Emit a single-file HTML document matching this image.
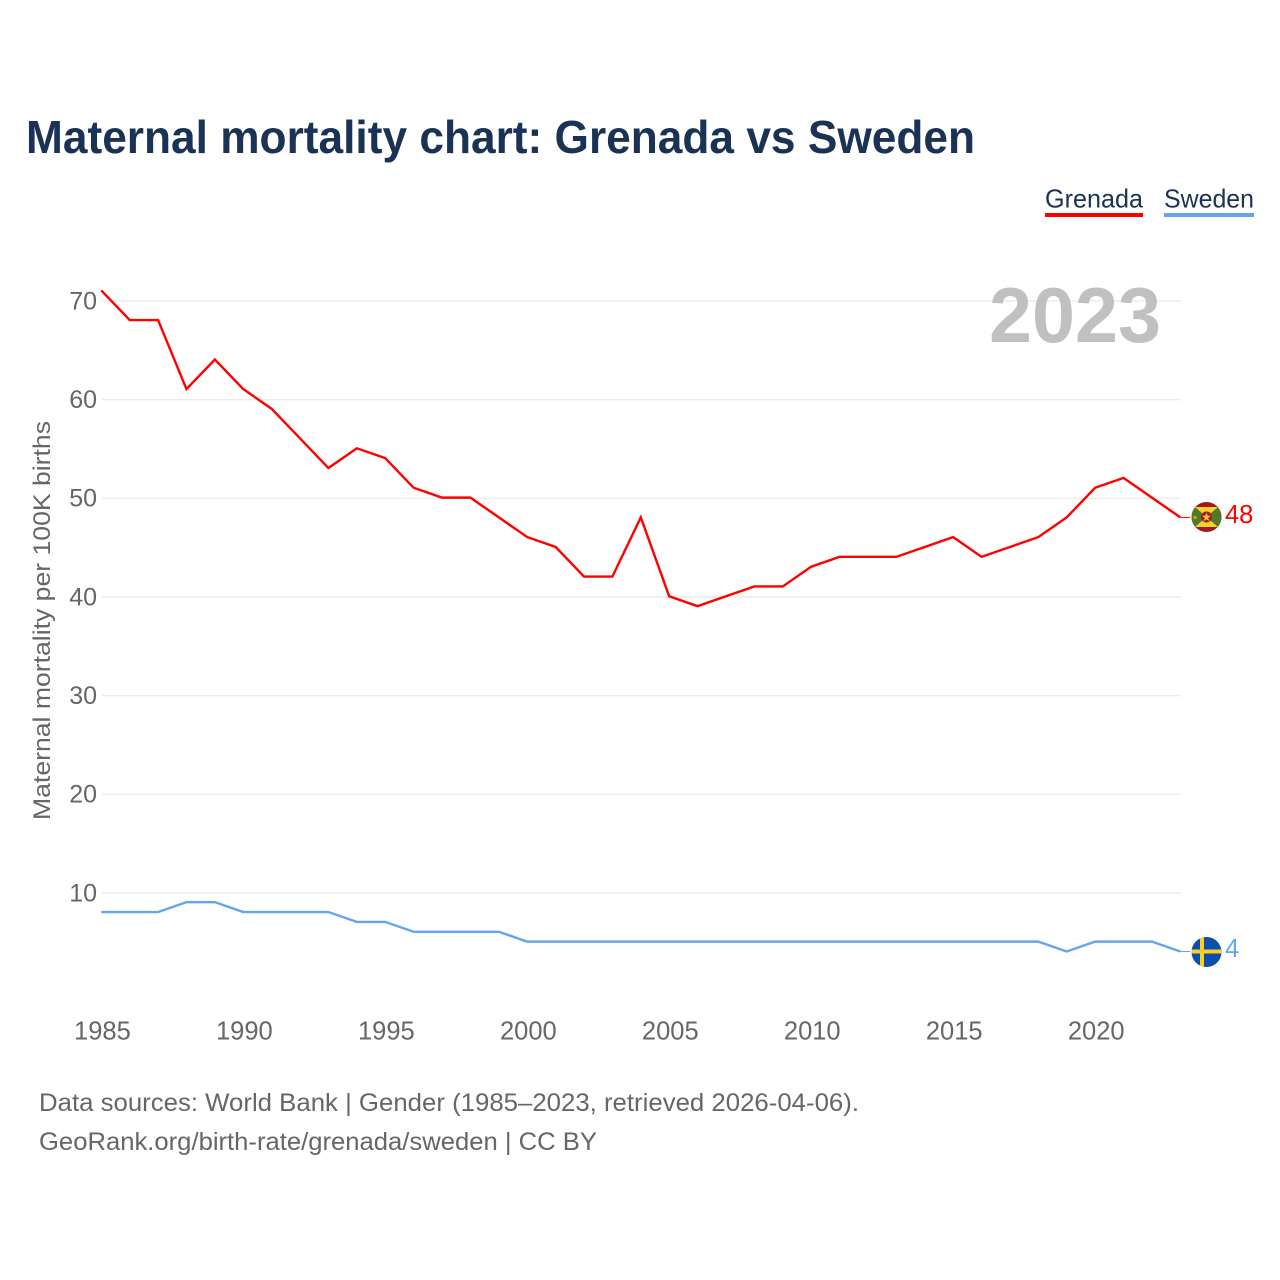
<!DOCTYPE html>
<html lang="en">
<head>
<meta charset="utf-8">
<title>Maternal mortality chart: Grenada vs Sweden</title>
<style>
html,body{margin:0;padding:0;background:#fff;width:1280px;height:1280px;overflow:hidden}
svg{display:block;font-family:"Liberation Sans",Arial,sans-serif}
</style>
</head>
<body>
<svg id="chart" width="1280" height="1280" viewBox="0 0 1280 1280" xmlns="http://www.w3.org/2000/svg">
  <defs>
    <clipPath id="grenada-clip"><circle cx="1206.5" cy="517" r="15"/></clipPath>
    <clipPath id="sweden-clip"><circle cx="1206.5" cy="952" r="15"/></clipPath>
  </defs>
  <text x="26" y="153" font-size="46" font-weight="700" fill="#1a3354" textLength="949" lengthAdjust="spacingAndGlyphs">Maternal mortality chart: Grenada vs Sweden</text>

  <g>
    <g>
      <text x="1045" y="207.5" font-size="26" fill="#1a3354" textLength="98" lengthAdjust="spacingAndGlyphs">Grenada</text>
      <rect x="1045" y="213" width="98" height="4" fill="#ff0000"/>
    </g>
    <g>
      <text x="1164" y="207.5" font-size="26" fill="#1a3354" textLength="90" lengthAdjust="spacingAndGlyphs">Sweden</text>
      <rect x="1164" y="213" width="90" height="4" fill="#62a6ee"/>
    </g>
  </g>

  <g id="grid"></g>
  <text x="989" y="342" font-size="78" font-weight="700" fill="#c0c0c0" textLength="172" lengthAdjust="spacingAndGlyphs">2023</text>
  <g id="y-ticks"></g>
  <g id="x-ticks"></g>
  <text transform="translate(50,820) rotate(-90)" x="0" y="0" font-size="24.5" fill="#666666" textLength="399" lengthAdjust="spacingAndGlyphs">Maternal mortality per 100K births</text>

  <g id="series" transform="translate(-0.7,-0.7)"></g>

  <g clip-path="url(#grenada-clip)">
    <rect x="1191" y="502" width="31" height="30" fill="#9e1b24"/>
    <rect x="1191" y="507" width="31" height="20" fill="#4f7a28"/>
    <polygon points="1195,507 1218,507 1206.5,517" fill="#f5d327"/>
    <polygon points="1195,527 1218,527 1206.5,517" fill="#f5d327"/>
    <circle cx="1206.5" cy="517" r="5.5" fill="#a8172a"/>
    <polygon points="1206.5,512.5 1207.6,515.8 1211,515.8 1208.2,517.9 1209.3,521.2 1206.5,519.2 1203.7,521.2 1204.8,517.9 1202,515.8 1205.4,515.8" fill="#f5d327"/>
    <rect x="1193.5" y="516" width="3" height="3" fill="#d8a520"/>
  </g>
  <text id="label-grenada" x="1225" y="523" font-size="25.5" fill="#ff0000"></text>

  <g clip-path="url(#sweden-clip)">
    <rect x="1191" y="937" width="31" height="30" fill="#0a50a8"/>
    <rect x="1191" y="949.5" width="31" height="4" fill="#fdcc2a"/>
    <rect x="1200" y="937" width="4" height="30" fill="#fdcc2a"/>
  </g>
  <text id="label-sweden" x="1225" y="957" font-size="25.5" fill="#62a6ee"></text>

  <text x="39" y="1111" font-size="25" fill="#666666" textLength="820" lengthAdjust="spacingAndGlyphs">Data sources: World Bank | Gender (1985–2023, retrieved 2026-04-06).</text>
  <text x="39" y="1150" font-size="25" fill="#666666" textLength="558" lengthAdjust="spacingAndGlyphs">GeoRank.org/birth-rate/grenada/sweden | CC BY</text>
</svg>
<script>
const years = [1985,1986,1987,1988,1989,1990,1991,1992,1993,1994,1995,1996,1997,1998,1999,2000,2001,2002,2003,2004,2005,2006,2007,2008,2009,2010,2011,2012,2013,2014,2015,2016,2017,2018,2019,2020,2021,2022,2023];
const grenada = [71,68,68,61,64,61,59,56,53,55,54,51,50,50,48,46,45,42,42,48,40,39,40,41,41,43,44,44,44,45,46,44,45,46,48,51,52,50,48];
const sweden = [8,8,8,9,9,8,8,8,8,7,7,6,6,6,6,5,5,5,5,5,5,5,5,5,5,5,5,5,5,5,5,5,5,5,4,5,5,5,4];
const yTicks = [10,20,30,40,50,60,70];
const xTicks = [1985,1990,1995,2000,2005,2010,2015,2020];

const NS = 'http://www.w3.org/2000/svg';
function xScale(year){ return 102 + (year - 1985) * (1181 - 102) / (2023 - 1985); }
function yScale(value){ return 893 - (value - 10) * (893 - 301) / 60; }
function linePath(values){
  return values.map(function(v,i){ return (i ? 'L' : 'M') + xScale(years[i]).toFixed(2) + ' ' + yScale(v).toFixed(2); }).join(' ');
}

const gridGroup = document.getElementById('grid');
const yGroup = document.getElementById('y-ticks');
yTicks.forEach(function(t){
  const g = document.createElementNS(NS,'line');
  
  
  g.setAttribute('x1', 102);
  g.setAttribute('x2', 1181);
  g.setAttribute('y1', yScale(t));
  g.setAttribute('y2', yScale(t));
  g.setAttribute('stroke', '#e8e8e8');
  g.setAttribute('stroke-width', 1.2);
  gridGroup.appendChild(g);

  const l = document.createElementNS(NS,'text');
  
  
  l.setAttribute('x', 97);
  l.setAttribute('y', yScale(t) + 8.3);
  l.setAttribute('text-anchor', 'end');
  l.setAttribute('font-size', 25);
  l.setAttribute('fill', '#666666');
  l.textContent = t;
  yGroup.appendChild(l);
});

const xGroup = document.getElementById('x-ticks');
xTicks.forEach(function(t){
  const l = document.createElementNS(NS,'text');
  
  
  l.setAttribute('x', xScale(t) + 0.4);
  l.setAttribute('y', 1039.4);
  l.setAttribute('text-anchor', 'middle');
  l.setAttribute('font-size', 25.5);
  l.setAttribute('fill', '#666666');
  l.textContent = t;
  xGroup.appendChild(l);
});

const seriesGroup = document.getElementById('series');

const grenadaLine = document.createElementNS(NS,'path');


grenadaLine.setAttribute('d', linePath(grenada));
grenadaLine.setAttribute('fill', 'none');
grenadaLine.setAttribute('stroke', '#ff0000');
grenadaLine.setAttribute('stroke-width', 2.4);
seriesGroup.appendChild(grenadaLine);

const swedenLine = document.createElementNS(NS,'path');


swedenLine.setAttribute('d', linePath(sweden));
swedenLine.setAttribute('fill', 'none');
swedenLine.setAttribute('stroke', '#62a6ee');
swedenLine.setAttribute('stroke-width', 2.4);
seriesGroup.appendChild(swedenLine);

const grenadaStub = document.createElementNS(NS,'line');


grenadaStub.setAttribute('x1', xScale(2023));
grenadaStub.setAttribute('x2', 1191);
grenadaStub.setAttribute('y1', yScale(grenada[grenada.length-1]));
grenadaStub.setAttribute('y2', yScale(grenada[grenada.length-1]));
grenadaStub.setAttribute('stroke', '#ff0000');
grenadaStub.setAttribute('stroke-width', 1);
seriesGroup.appendChild(grenadaStub);

const swedenStub = document.createElementNS(NS,'line');


swedenStub.setAttribute('x1', xScale(2023));
swedenStub.setAttribute('x2', 1191);
swedenStub.setAttribute('y1', yScale(sweden[sweden.length-1]));
swedenStub.setAttribute('y2', yScale(sweden[sweden.length-1]));
swedenStub.setAttribute('stroke', '#62a6ee');
swedenStub.setAttribute('stroke-width', 1);
seriesGroup.appendChild(swedenStub);

document.getElementById('label-grenada').textContent = grenada[grenada.length-1];
document.getElementById('label-sweden').textContent = sweden[sweden.length-1];
</script>
</body>
</html>
